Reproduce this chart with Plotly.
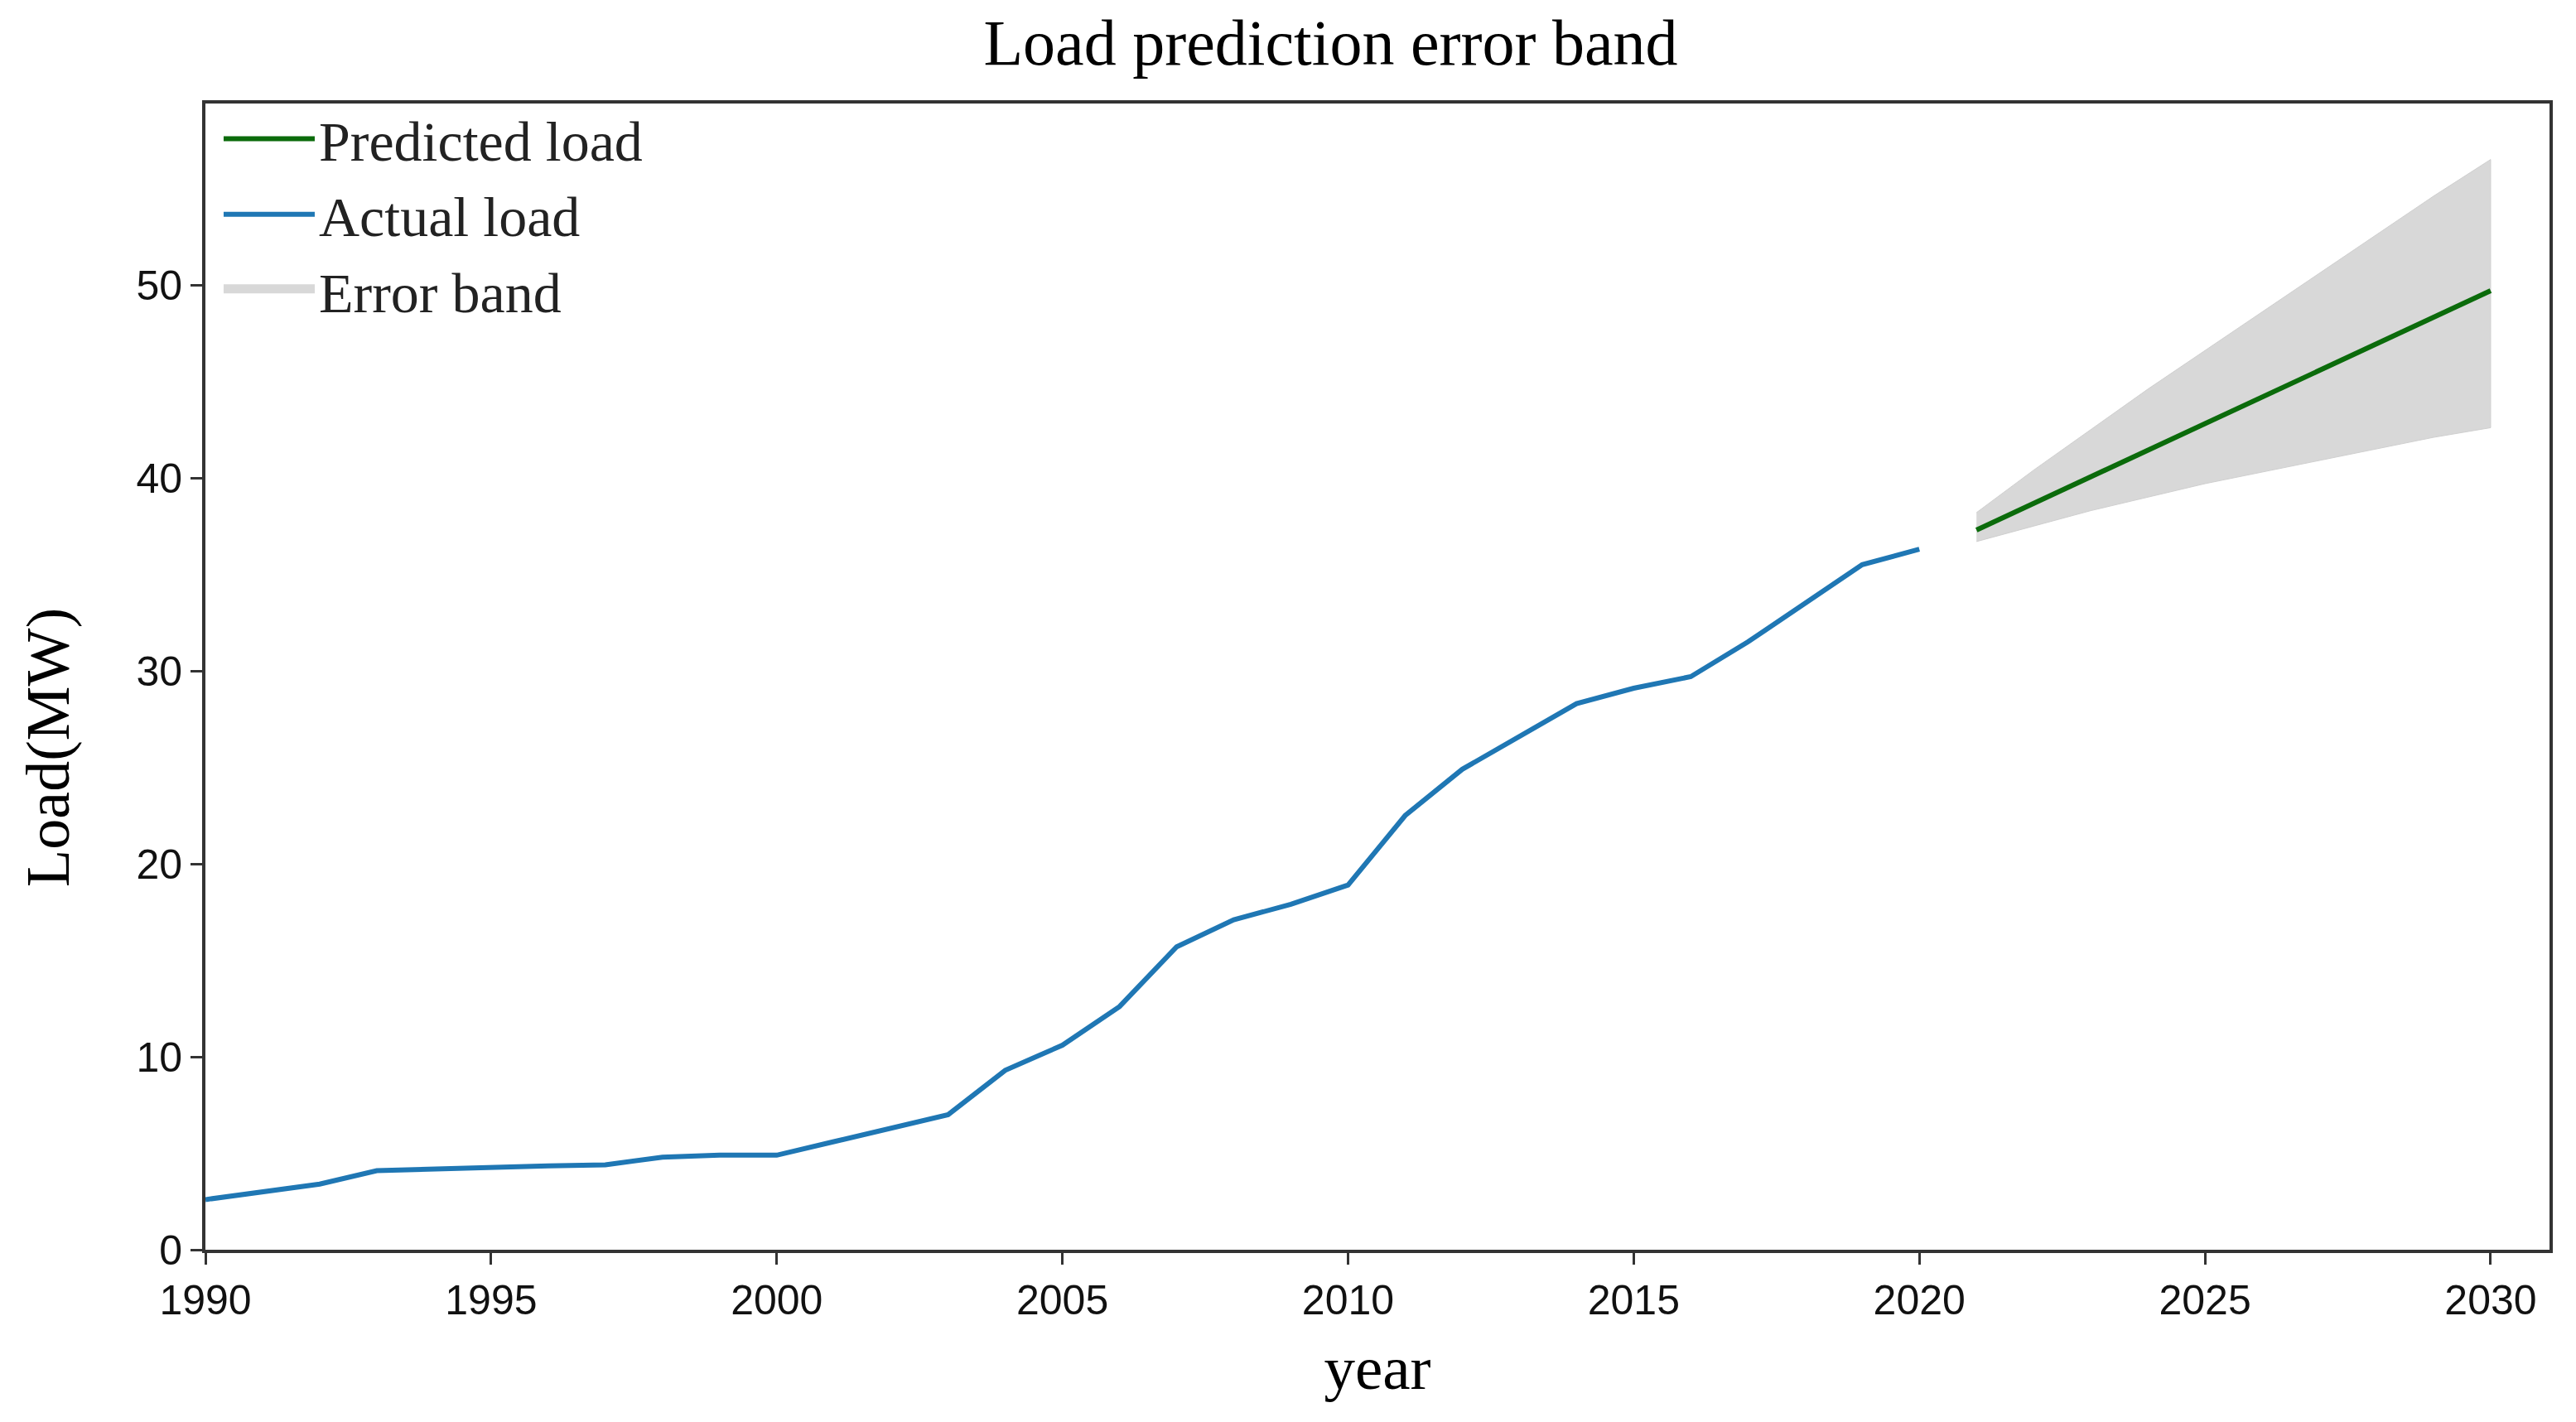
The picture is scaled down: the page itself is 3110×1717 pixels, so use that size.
import plotly.graph_objects as go

years_actual = list(range(1990, 2021))
actual_load = [2.6, 3.0, 3.4, 4.1, 4.2, 4.3, 4.35, 4.4, 4.8, 4.9, 4.9,
               5.6, 6.3, 7.0, 9.3, 10.6, 12.6, 15.7, 17.1, 17.9, 18.9,
               22.5, 24.9, 26.6, 28.3, 29.1, 29.7, 31.5, 33.5, 35.5, 36.3]

years_pred = list(range(2021, 2031))
predicted_load = [37.30, 38.68, 40.06, 41.43, 42.81, 44.19, 45.57, 46.94, 48.32, 49.70]
band_upper = [38.2, 40.4, 42.5, 44.6, 46.6, 48.6, 50.6, 52.6, 54.6, 56.5]
band_lower = [36.7, 37.5, 38.3, 39.0, 39.7, 40.3, 40.9, 41.5, 42.1, 42.6]

x_ticks = [1990, 1995, 2000, 2005, 2010, 2015, 2020, 2025, 2030]
y_ticks = [0, 10, 20, 30, 40, 50]

SERIF = "Liberation Serif, Times New Roman, serif"
SANS = "Liberation Sans, Arial, sans-serif"
AX = "#333333"
BAND = "#d8d8d8"

fig = go.Figure()

# error band as a closed polygon: upper edge forward, lower edge backward
band_x = years_pred + years_pred[::-1]
band_y = band_upper + band_lower[::-1]
fig.add_trace(go.Scatter(
    x=band_x, y=band_y, mode="lines", line=dict(width=1, color="#cfcfcf"),
    fill="toself", fillcolor=BAND, legendgroup="band",
    name="Error band", showlegend=False))

fig.add_trace(go.Scatter(
    x=years_pred, y=predicted_load, mode="lines",
    line=dict(color="#0b6b0b", width=6), name="Predicted load", legendrank=1))
fig.add_trace(go.Scatter(
    x=years_actual, y=actual_load, mode="lines",
    line=dict(color="#1f77b4", width=6), name="Actual load", legendrank=2))

# legend entry for the band (thicker swatch)
fig.add_trace(go.Scatter(
    x=[None], y=[None], mode="lines", line=dict(width=10, color=BAND),
    fill="toself", fillcolor=BAND, legendgroup="band",
    name="Error band", legendrank=3))

fig.update_layout(
    width=3110, height=1717,
    margin=dict(l=240, r=40, t=117, b=216),
    paper_bgcolor="white", plot_bgcolor="white",
    title=dict(text="Load prediction error band", x=0.514, xref="container",
               y=0.975, yref="container", yanchor="middle", xanchor="center",
               font=dict(family=SERIF, size=78, color="black")),
    legend=dict(x=0.006, y=1.006, xanchor="left", yanchor="top",
                font=dict(family=SERIF, size=68, color="#222222"),
                bgcolor="rgba(255,255,255,0)", itemwidth=110,
                traceorder="normal"),
    showlegend=True,
    annotations=[dict(
        text="Load(MW)", textangle=-90, xref="paper", yref="paper",
        x=-0.0671, y=0.438, xanchor="center", yanchor="middle",
        showarrow=False, font=dict(family=SERIF, size=74, color="black"))],
)

fig.update_xaxes(
    range=[1990, 2031.03], tickvals=x_ticks, ticktext=[str(v) for v in x_ticks],
    showgrid=False, zeroline=False,
    showline=True, linecolor=AX, linewidth=4, mirror=True,
    ticks="outside", ticklen=14, tickwidth=3, tickcolor=AX,
    tickfont=dict(family=SANS, size=50, color="#111111"),
    title=dict(text="year", font=dict(family=SERIF, size=75, color="black"),
               standoff=28),
)
fig.update_yaxes(
    range=[0, 59.4], tickvals=y_ticks, ticktext=[str(v) for v in y_ticks],
    showgrid=False, zeroline=False,
    showline=True, linecolor=AX, linewidth=4, mirror=True,
    ticks="outside", ticklen=14, tickwidth=3, tickcolor=AX,
    tickfont=dict(family=SANS, size=50, color="#111111"),
)

fig.write_html("out.html")
